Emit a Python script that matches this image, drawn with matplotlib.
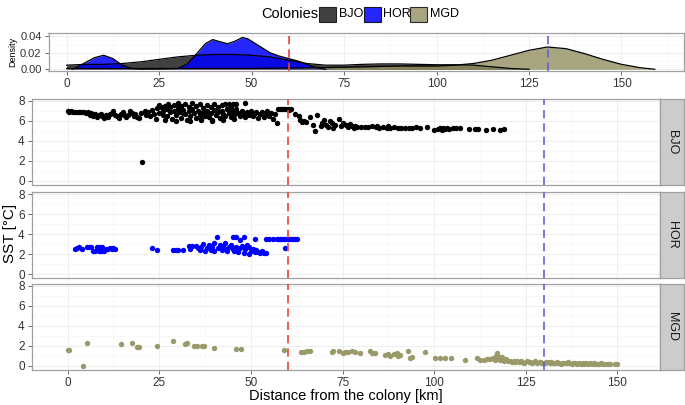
import matplotlib
matplotlib.use("Agg")
import matplotlib.pyplot as plt
from matplotlib.patches import Rectangle

plt.rcParams['font.family'] = ['Liberation Sans', 'DejaVu Sans']

# ---- data ----
colonies = ['BJO', 'HOR', 'MGD']

bjo_km = [0.2, 0.5, 1, 1.5, 2, 2.5, 3, 3.5, 4, 4.5, 5, 5.5,
          6, 6.5, 7, 7.5, 8, 8.5, 9, 9.5, 10, 10.5, 11, 11.5, 12,
          12.5, 13, 13.5, 14, 14.5, 15, 15.5, 16, 16.5, 17, 17.5, 18, 18.5, 19, 19.5, 20, 20.4, 21, 21.5, 22, 22.5, 23, 23.5, 24,
          24.5, 25, 25, 25.5, 26, 26, 26.5, 27, 27, 27.5, 28, 28, 28.5, 29, 29, 29.5, 30, 30, 30.5, 31, 31, 31.5, 32, 32, 32.5, 33, 33,
          33.5, 34, 34, 34.5, 35, 35, 35.5, 36, 36, 36.5, 37, 37, 37.5, 38, 38, 38.5, 39, 39, 39.5, 40, 40, 40.5, 41, 41, 41.5,
          42, 42, 42.5, 43, 43, 43.5, 44, 44, 44.5, 45, 45, 45.5, 46, 46, 46.5,
          47, 47.5, 48, 48.5, 48.5, 49, 49.5, 50, 50.5, 51, 51.5, 52, 52.5, 53, 53.5, 54, 54.5, 55, 55.5, 56, 56.5, 57,
          57.5, 58, 58.5, 59, 59.5, 60, 60.5, 61,
          62, 63, 63.5, 64, 64.5, 65, 66, 67, 67.5, 68, 69, 69.5, 70, 70.5, 71, 71.5, 72, 72.5, 73, 74, 74.5, 75,
          76, 76.5, 77, 77.5, 78, 78.5, 79, 80, 81, 82, 83, 84, 84.5, 85, 86, 87, 87.5, 88, 89, 90, 91, 92, 93, 94, 95, 96, 98,
          100, 101, 101.5, 102, 102.5, 103, 103.5, 104, 105, 106, 107, 109.5, 111, 112, 114, 116, 118, 119,
          26.5, 29.5, 33.5, 36.5, 39.5, 42.5, 45.5, 31.5, 38.5, 44.5]
bjo_sst = [7.0, 6.9, 6.95, 6.9, 6.9, 6.85, 6.9, 6.85, 6.85, 6.9, 6.8, 6.85,
           6.6, 6.8, 6.5, 6.7, 6.4, 6.6, 6.7, 6.5, 6.3, 6.6, 6.4, 6.7, 6.8,
           7.0, 6.6, 6.5, 6.3, 6.7, 6.9, 6.6, 6.4, 6.6, 7.0, 6.8, 6.5, 6.7, 6.4, 6.3, 6.8, 1.9, 7.0, 6.6, 6.9, 6.5, 7.1, 6.7, 6.2,
           7.3, 6.8, 7.6, 7.4, 7.0, 6.6, 7.5, 7.2, 6.5, 7.7, 7.4, 6.9, 6.2, 7.6, 7.0, 6.6, 7.8, 7.3, 6.9, 6.3, 7.5, 7.1, 7.7, 6.7, 6.1, 7.4, 7.0,
           6.5, 7.8, 7.2, 6.8, 6.3, 7.5, 7.0, 6.6, 7.7, 6.2, 7.3, 6.9, 6.5, 7.6, 7.0, 6.4, 7.4, 6.8, 6.1, 7.7, 7.1, 6.6, 7.4, 6.9, 6.3,
           7.6, 7.0, 6.7, 7.7, 6.5, 7.2, 7.7, 6.8, 6.4, 7.7, 7.0, 6.6, 7.7, 7.2, 6.8,
           6.5, 7.0, 6.7, 7.8, 6.4, 6.9, 6.6, 7.0, 6.5, 6.8, 6.9, 6.3, 6.7, 6.9, 6.4, 6.6, 7.0, 6.5, 6.8, 6.2, 6.7, 5.8,
           7.2, 7.2, 7.2, 7.2, 7.2, 7.2, 7.1, 7.2,
           6.7, 6.5, 6.1, 5.9, 6.0, 5.9, 6.4, 5.6, 5.0, 6.6, 5.5, 5.8, 6.1, 5.6, 5.4, 6.0, 5.8, 5.3, 5.6, 6.2, 5.5, 5.8,
           5.6, 5.4, 5.7, 5.5, 5.3, 5.5, 5.4, 5.4, 5.4, 5.4, 5.45, 5.4, 5.5, 5.3, 5.35, 5.3, 5.45, 5.3, 5.35, 5.3, 5.3, 5.3, 5.3, 5.3, 5.35, 5.3, 5.4,
           5.1, 5.2, 5.3, 5.1, 5.3, 5.2, 5.3, 5.2, 5.25, 5.3, 5.3, 5.15, 5.2, 5.2, 5.1, 5.15, 5.1, 5.15,
           6.1, 6.0, 6.0, 6.1, 6.0, 6.1, 6.2, 6.8, 6.7, 7.3]

hor_km = [2.0, 2.5, 3.0, 4.0, 5.2, 5.8, 6.5, 7.0, 7.5, 8.0, 8.5, 8.5, 9.0, 9.5, 9.8, 10.5, 11, 11.5, 12, 12.5, 13,
          23, 24.5, 28.8, 29.5, 30.2, 31.5, 33, 33.5, 34, 35, 35.5, 36, 36.5, 37, 37.5, 38, 38.5, 39, 39.5, 40, 40,
          40.8, 41, 41.5, 42, 42.5, 43, 43, 43.5, 44, 44.5, 45, 45, 45.5, 46, 46, 46.5, 47, 47, 47.5, 48, 48, 48.5,
          49, 49.5, 49.5, 50, 50.5, 51, 51, 51.5, 52, 52.5, 53, 53.5, 54, 54, 55, 56, 57, 57.5, 58, 58.5, 59, 59.3,
          59.5, 60, 60.5, 61, 61.5, 62, 62.5]
hor_sst = [2.5, 2.6, 2.7, 2.5, 2.75, 2.75, 2.7, 2.3, 2.35, 2.75, 2.75, 2.3, 2.3, 2.75, 2.3, 2.55, 2.55, 2.6, 2.55, 2.6, 2.55,
           2.6, 2.45, 2.45, 2.45, 2.45, 2.45, 2.8, 2.5, 2.8, 2.85, 2.6, 2.4, 2.7, 3.0, 2.3, 2.6, 2.9, 2.4, 2.7, 3.1, 2.3,
           3.7, 2.6, 2.9, 2.4, 2.8, 3.1, 2.5, 2.3, 2.7, 2.9, 3.7, 2.5, 2.3, 3.7, 2.7, 2.2, 3.4, 2.6, 2.8, 3.7, 2.1, 2.5,
           2.9, 2.0, 2.7, 2.3, 2.5, 3.5, 2.2, 2.4, 2.2, 2.1, 2.3, 2.1, 2.15, 3.5, 3.5, 3.5, 3.5, 3.5, 3.5, 3.5, 3.5, 2.6,
           3.5, 3.5, 3.5, 3.5, 3.5, 3.5, 3.5]

mgd_km = [0, 0.5, 4.3, 5.4, 14.5, 17.5, 18.8, 19.5, 24.5, 28.8, 32.1, 32.6, 34.6, 35.2, 36.6, 37.2, 40, 46, 47.2, 59,
          63.8, 64.5, 65.3, 66.2, 72, 72.5, 74.1, 75.2, 75.8, 76.5, 77.5, 78.5, 79.7, 82.4, 83, 83.8, 86.5, 87.3, 88,
          89, 89.8, 90.2, 90.6, 92.9, 93.5, 94, 97.5, 100.2, 101.5, 102.9, 104.5, 108.4, 111.6, 112.5, 113.5, 114.3,
          115.2, 116, 116.5, 117, 117.5, 118, 118.5, 119, 119.7, 120.6, 121.2, 122, 122.6, 123.2, 124, 124.6, 125.2,
          126, 126.6, 127.2, 128, 128.8, 129.5, 130.2, 131, 131.6, 132.3, 133, 133.8, 134.5, 135.2, 136, 136.8, 137.5,
          138.3, 139, 140, 141, 142, 143, 144, 145, 146, 148, 149.2, 150,
          120.2, 121.8, 123.6, 125.8, 127.6, 129, 130.6, 132, 133.4, 134.8, 136.4, 138, 139.5, 140.5, 141.5, 142.5,
          143.5, 144.5, 145.5, 147, 147.5, 118.2, 117.2, 116.8]
mgd_sst = [1.6, 1.6, 0.0, 2.3, 2.2, 2.25, 1.9, 1.9, 2.0, 2.5, 2.2, 2.3, 1.95, 1.95, 1.95, 1.95, 1.8, 1.7, 1.7, 1.6,
           1.35, 1.4, 1.45, 1.45, 1.4, 1.45, 1.45, 1.25, 1.35, 1.4, 1.45, 1.35, 1.3, 1.45, 1.3, 1.25, 1.1, 1.2, 1.0,
           1.15, 1.3, 0.95, 1.1, 1.5, 0.8, 0.9, 1.4, 0.75, 0.75, 0.8, 0.8, 0.6, 0.75, 0.6, 0.6, 0.7,
           0.7, 0.8, 0.6, 1.0, 0.75, 0.55, 0.85, 0.5, 0.7, 0.45, 0.35, 0.4, 0.45, 0.35, 0.4, 0.3, 0.45,
           0.35, 0.3, 0.4, 0.3, 0.35, 0.25, 0.3, 0.35, 0.25, 0.3, 0.25, 0.3, 0.2, 0.3, 0.25, 0.3, 0.2,
           0.25, 0.2, 0.2, 0.2, 0.2, 0.15, 0.2, 0.15, 0.15, 0.15, 0.15, 0.15,
           0.5, 0.45, 0.5, 0.4, 0.45, 0.35, 0.4, 0.35, 0.4, 0.3, 0.35, 0.3, 0.25, 0.3, 0.25, 0.3,
           0.25, 0.2, 0.25, 0.2, 0.15, 0.9, 1.3, 0.95]

# density curves (distance, density)
bjo_dens_km = [0, 5, 10, 15, 20, 25, 30, 35, 40, 45, 50, 55, 60, 65, 70, 75, 80, 85, 90, 95, 100, 105, 110, 115, 120, 125]
bjo_dens = [0.005, 0.006, 0.006, 0.007, 0.009, 0.012, 0.015, 0.017, 0.018, 0.018, 0.017, 0.015, 0.011, 0.007,
            0.005, 0.005, 0.006, 0.0065, 0.0065, 0.006, 0.0055, 0.0055, 0.005, 0.003, 0.001, 0.0]
hor_dens_km = [1.5, 3, 5, 7.5, 10, 12.5, 15, 17.5, 20, 25, 30, 32.5, 35, 37.5, 39.5, 41, 43.5, 45.5, 47.5, 49,
               50, 52.5, 55, 57.5, 60, 62.5, 65, 67.5, 70]
hor_dens = [0.0, 0.003, 0.008, 0.014, 0.017, 0.013, 0.005, 0.001, 0.0003, 0.0004, 0.001, 0.006, 0.018, 0.031,
            0.036, 0.034, 0.031, 0.034, 0.0385, 0.037, 0.034, 0.027, 0.02, 0.016, 0.013, 0.01, 0.006, 0.002, 0.0]
mgd_dens_km = [0, 10, 20, 30, 40, 50, 60, 70, 80, 90, 100, 105, 110, 115, 120, 125, 130, 135, 140, 145, 150, 155, 159]
mgd_dens = [0.001, 0.001, 0.001, 0.001, 0.001, 0.001, 0.0015, 0.002, 0.003, 0.004, 0.004, 0.005, 0.007, 0.011,
            0.017, 0.023, 0.027, 0.025, 0.019, 0.012, 0.006, 0.002, 0.0]

km_ticks = [0, 25, 50, 75, 100, 125, 150]
sst_ticks = [0, 2, 4, 6, 8]
dens_ticks = [0.00, 0.02, 0.04]

point_colors = ['#000000', '#0000ff', '#99996a']
fill_colors = ['#111111', '#0000ff', '#929060']
red_line = '#e8433a'
blue_line = '#6262d6'

# ---- figure ----
W, H = 685, 405
fig = plt.figure(figsize=(W / 100, H / 100), dpi=100)


def box(x0, y0, x1, y1):
    # pixel box (top-left origin) -> figure fraction rect
    return [x0 / W, 1 - y1 / H, (x1 - x0) / W, (y1 - y0) / H]


def style_axes(ax):
    ax.set_facecolor('white')
    ax.grid(which='major', color='#ebebeb', lw=0.6)
    ax.grid(which='minor', color='#f5f5f5', lw=0.4)
    ax.set_axisbelow(True)
    for s in ax.spines.values():
        s.set_color('#a0a0a0')
        s.set_linewidth(0.9)
    ax.tick_params(which='major', length=3, width=0.6, color='#555555', labelcolor='#333333', labelsize=8.5, pad=2)
    ax.tick_params(which='minor', length=0)


dash = (0, (5, 3))

# density panel
dax = fig.add_axes(box(48.5, 33.3, 684, 70.7))
for km, d, c, a in zip([bjo_dens_km, hor_dens_km, mgd_dens_km], [bjo_dens, hor_dens, mgd_dens], fill_colors, [0.8, 0.85, 0.8]):
    dax.fill_between(km, d, 0, color=c, alpha=a, lw=0)
    dax.plot(km, d, color='black', lw=0.9)
dax.axvline(60, color=red_line, ls=dash, lw=1.2)
dax.axvline(130, color=blue_line, ls=dash, lw=1.2)
dax.set_xlim(-4.9, 166.9)
dax.set_ylim(-0.0017, 0.0436)
dax.set_xticks(km_ticks)
dax.set_xticks([12.5, 37.5, 62.5, 87.5, 112.5, 137.5, 162.5], minor=True)
dax.set_yticks(dens_ticks)
dax.set_yticks([0.01, 0.03], minor=True)
style_axes(dax)
dax.tick_params(axis='y', labelsize=8)
dax.yaxis.set_major_formatter(matplotlib.ticker.FormatStrFormatter('%.2f'))
dax.set_ylabel('Density', fontsize=6.5, labelpad=2)

# facet panels
tops = [98.7, 192, 283.7]
kms = [bjo_km, hor_km, mgd_km]
ssts = [bjo_sst, hor_sst, mgd_sst]
axes = []
for i, name in enumerate(colonies):
    t = tops[i]
    ax = fig.add_axes(box(31.7, t, 660, t + 86.3))
    ax.scatter(kms[i], ssts[i], s=15, color=point_colors[i], lw=0, zorder=3)
    ax.axvline(60, color=red_line, ls=dash, lw=1.2, zorder=4)
    ax.axvline(130, color=blue_line, ls=dash, lw=1.2, zorder=4)
    ax.set_xlim(-9.8, 161.6)
    ax.set_ylim(-0.4, 8.2)
    ax.set_xticks(km_ticks)
    ax.set_xticks([12.5, 37.5, 62.5, 87.5, 112.5, 137.5], minor=True)
    ax.set_yticks(sst_ticks)
    ax.set_yticks([1, 3, 5, 7], minor=True)
    style_axes(ax)
    if i < 2:
        ax.tick_params(axis='x', which='both', bottom=False, labelbottom=False)
    # strip on the right
    sax = fig.add_axes(box(660, t, 684, t + 86.3))
    sax.set_facecolor('#cccccc')
    sax.set_xticks([])
    sax.set_yticks([])
    for s in sax.spines.values():
        s.set_color('#a0a0a0')
        s.set_linewidth(0.9)
    sax.text(0.5, 0.5, name, rotation=-90, ha='center', va='center', fontsize=9, color='#1a1a1a',
             transform=sax.transAxes)
    axes.append(ax)

fig.text(10 / W, 1 - 233 / H, 'SST [°C]', rotation=90, ha='center', va='center', fontsize=11)
fig.text(346 / W, 1 - 396 / H, 'Distance from the colony [km]', ha='center', va='center', fontsize=10.5)

# legend on top
ly = 14
fig.text(261 / W, 1 - ly / H, 'Colonies', ha='left', va='center', fontsize=10.5)
key_x = [319, 364, 410]
for x0, name, c, a in zip(key_x, colonies, fill_colors, [0.8, 0.85, 0.8]):
    fig.add_artist(Rectangle((x0 / W, 1 - (ly + 7.5) / H), 17 / W, 15 / H, transform=fig.transFigure,
                             facecolor=c, alpha=a, edgecolor='black', lw=0.8))
    fig.text((x0 + 19.5) / W, 1 - ly / H, name, ha='left', va='center', fontsize=9)

fig.savefig('out.png', dpi=100)
